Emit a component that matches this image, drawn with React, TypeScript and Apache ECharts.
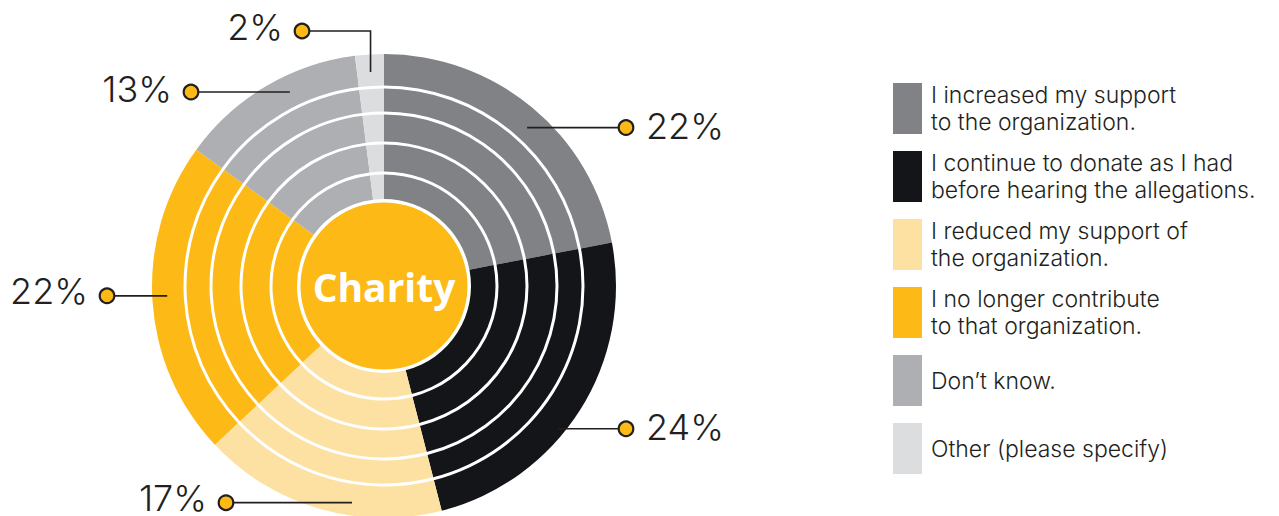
import React, { useEffect, useRef } from "react";
import * as echarts from "echarts";

// ---------- data ----------
const CATEGORIES = [
  "I increased my support to the organization.",
  "I continue to donate as I had before hearing the allegations.",
  "I reduced my support of the organization.",
  "I no longer contribute to that organization.",
  "Don’t know.",
  "Other (please specify)",
];
const LEGEND_LABELS = [
  "I increased my support\nto the organization.",
  "I continue to donate as I had\nbefore hearing the allegations.",
  "I reduced my support of\nthe organization.",
  "I no longer contribute\nto that organization.",
  "Don’t know.",
  "Other (please specify)",
];
const VALUES = [22, 24, 17, 22, 13, 2];
const COLORS = ["#808285", "#141518", "#FDE1A3", "#FDB915", "#AEAFB2", "#DCDDDF"];
const CENTER_LABEL = "Charity";

// ---------- layout ----------
const CX = 384;
const CY = 286;
const RINGS: [number, number][] = [
  [87, 111.5],
  [114.5, 141.5],
  [144.5, 171.5],
  [174.5, 197.5],
  [200.5, 232],
];
const INNER_R = 83.5;
const DARK = "#231F20";
const LIGHT_FONT = "Inter";
const LABEL_LAYOUT = [
  { angleOffset: 2.5, r: 213.5, dotX: 626, dotY: null as number | null, side: "right", textDy: -2 },
  { angleOffset: 7, r: 225, dotX: 626, dotY: null, side: "right", textDy: -2 },
  { angleOffset: -7.8, r: 219, dotX: 226, dotY: null, side: "left", textDy: -4.5 },
  { angleOffset: 1, r: 217, dotX: 107, dotY: null, side: "left", textDy: -5 },
  { angleOffset: 4.7, r: 215.6, dotX: 191, dotY: null, side: "left", textDy: -3.5 },
  { angleOffset: 0, r: 214.4, dotX: 302, dotY: 31, side: "left", textDy: -4.5 },
];

function buildLabelGraphics() {
  const total = VALUES.reduce((a, b) => a + b, 0);
  const els: any[] = [];
  let cum = 0;
  VALUES.forEach((v, i) => {
    const mid = ((cum + v / 2) / total) * 360;
    cum += v;
    const lay = LABEL_LAYOUT[i];
    const th = ((mid + lay.angleOffset) * Math.PI) / 180;
    const ax = CX + lay.r * Math.sin(th);
    const ay = CY - lay.r * Math.cos(th);
    const dy = lay.dotY == null ? ay : lay.dotY;
    const pts = lay.dotY == null ? [[ax, ay], [lay.dotX, dy]] : [[ax, ay], [ax, dy], [lay.dotX, dy]];
    els.push({
      type: "polyline",
      silent: true,
      z: 10,
      shape: { points: pts },
      style: { stroke: DARK, lineWidth: 1.6, fill: null },
    });
    els.push({
      type: "circle",
      silent: true,
      z: 11,
      shape: { cx: lay.dotX, cy: dy, r: 7.3 },
      style: { fill: "#FDB915", stroke: DARK, lineWidth: 2.2 },
    });
    const right = lay.side === "right";
    els.push({
      type: "text",
      silent: true,
      z: 11,
      x: right ? lay.dotX + 20 : lay.dotX - 19,
      y: dy + lay.textDy,
      style: {
        text: `${v}%`,
        fill: DARK,
        fontSize: 36,
        lineHeight: 28,
        fontWeight: 300,
        fontFamily: LIGHT_FONT,
        align: right ? "left" : "right",
        verticalAlign: "middle",
        textAlign: right ? "left" : "right",
        textVerticalAlign: "middle",
      },
    });
  });
  return els;
}

export default function App() {
  const ref = useRef<HTMLDivElement>(null);
  useEffect(() => {
    if (!ref.current) return;
    const chart = echarts.init(ref.current, null, { renderer: "svg" });
    const pieData = CATEGORIES.map((name, i) => ({
      name,
      value: VALUES[i],
      itemStyle: { color: COLORS[i] },
    }));
    const ringSeries = RINGS.map((r) => ({
      type: "pie",
      center: [CX, CY],
      radius: r,
      startAngle: 90,
      clockwise: true,
      silent: true,
      avoidLabelOverlap: false,
      label: { show: false },
      labelLine: { show: false },
      emphasis: { disabled: true },
      itemStyle: { borderWidth: 0 },
      data: pieData,
    }));
    chart.setOption({
      animation: false,
      backgroundColor: "#ffffff",
      legend: {
        orient: "vertical",
        left: 893,
        top: 83,
        padding: 0,
        itemWidth: 29,
        itemHeight: 51,
        itemGap: 17,
        icon: "rect",
        selectedMode: false,
        data: CATEGORIES,
        formatter: (name: string) => LEGEND_LABELS[CATEGORIES.indexOf(name)],
        textStyle: {
          fontFamily: LIGHT_FONT,
          fontWeight: 300,
          fontSize: 23,
          lineHeight: 27,
          height: 51,
          color: DARK,
          padding: [0, 0, 0, 4],
        },
      },
      series: [
        ...ringSeries,
        {
          type: "pie",
          center: [CX, CY],
          radius: [0, INNER_R],
          silent: true,
          emphasis: { disabled: true },
          labelLine: { show: false },
          label: {
            show: true,
            position: "center",
            formatter: CENTER_LABEL,
            color: "#ffffff",
            fontFamily: "Open Sans",
            fontWeight: 700,
            fontSize: 39,
          },
          data: [{ name: CENTER_LABEL, value: 1, itemStyle: { color: "#FDB915" } }],
        },
      ],
      graphic: { elements: buildLabelGraphics() },
    });
    return () => chart.dispose();
  }, []);
  return (
    <div
      ref={ref}
      style={{ position: "absolute", left: 0, top: 0, width: 1279, height: 516 }}
    />
  );
}
